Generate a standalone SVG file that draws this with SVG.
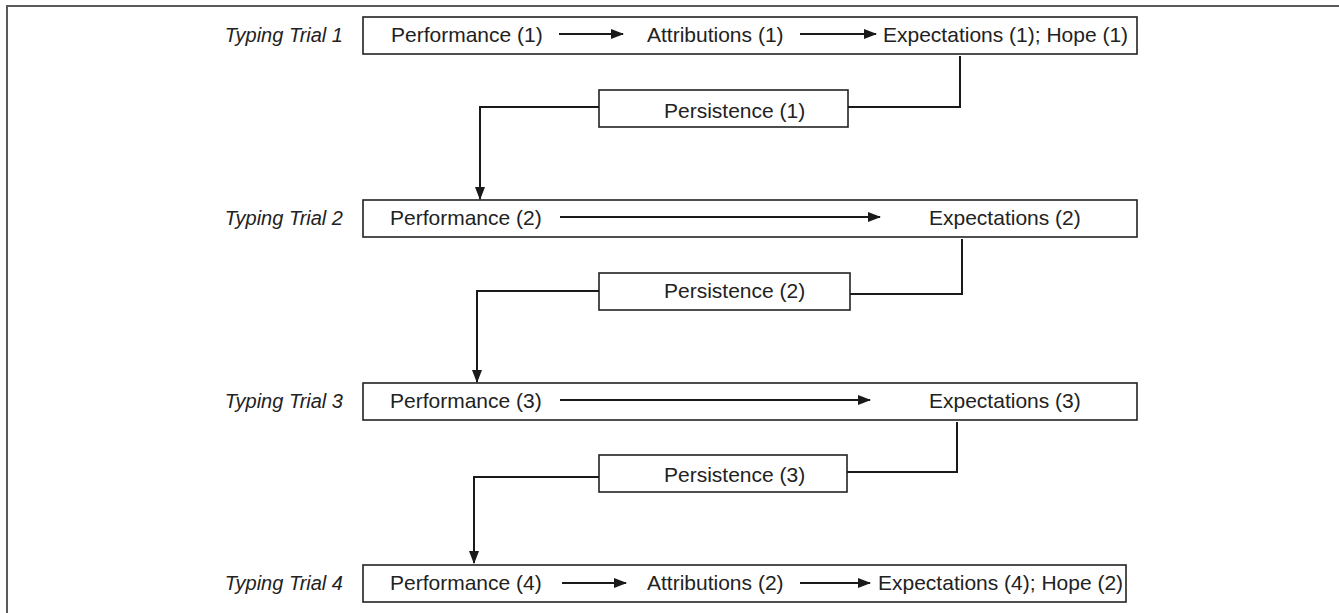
<svg xmlns="http://www.w3.org/2000/svg" width="1339" height="613" viewBox="0 0 1339 613">
<style>
.box{fill:#fff;stroke:#222;stroke-width:1.6}
.t{font-family:"Liberation Sans",Arial,sans-serif;font-size:21px;fill:#222}
.lbl{font-family:"Liberation Sans",Arial,sans-serif;font-size:20px;font-style:italic;fill:#222;text-anchor:end}
.c{fill:none;stroke:#1a1a1a;stroke-width:2}
.frame{fill:none;stroke:#5a5a5a;stroke-width:2}
</style>
<defs>
<marker id="ah" markerUnits="userSpaceOnUse" markerWidth="13" markerHeight="10" refX="12" refY="5" orient="auto">
<path d="M0,0 L13,5 L0,10 Z" fill="#1a1a1a"/>
</marker>
</defs>
<path class="frame" d="M7,613 L7,6 L1339,6"/>
<g id="trial1">
<text class="lbl" x="343" y="42">Typing Trial 1</text>
<rect class="box" x="363" y="17" width="774" height="37"/>
<text class="t" x="391" y="42">Performance (1)</text>
<text class="t" x="647" y="42">Attributions (1)</text>
<text class="t" x="883" y="42">Expectations (1); Hope (1)</text>
</g>
<g id="persistence1">
<rect class="box" x="599" y="90" width="249" height="37"/>
<text class="t" x="664" y="118">Persistence (1)</text>
</g>
<g id="trial2">
<text class="lbl" x="343" y="225">Typing Trial 2</text>
<rect class="box" x="363" y="200" width="774" height="37"/>
<text class="t" x="390" y="225">Performance (2)</text>
<text class="t" x="929" y="225">Expectations (2)</text>
</g>
<g id="persistence2">
<rect class="box" x="599" y="273" width="251" height="37"/>
<text class="t" x="664" y="298">Persistence (2)</text>
</g>
<g id="trial3">
<text class="lbl" x="343" y="408">Typing Trial 3</text>
<rect class="box" x="363" y="383" width="774" height="37"/>
<text class="t" x="390" y="408">Performance (3)</text>
<text class="t" x="929" y="408">Expectations (3)</text>
</g>
<g id="persistence3">
<rect class="box" x="599" y="455" width="248" height="37"/>
<text class="t" x="664" y="482">Persistence (3)</text>
</g>
<g id="trial4">
<text class="lbl" x="343" y="590">Typing Trial 4</text>
<rect class="box" x="363" y="565" width="763" height="37"/>
<text class="t" x="390" y="590">Performance (4)</text>
<text class="t" x="647" y="590">Attributions (2)</text>
<text class="t" x="878" y="590">Expectations (4); Hope (2)</text>
</g>
<g id="connectors">
<line class="c" x1="559" y1="34" x2="623" y2="34" marker-end="url(#ah)"/>
<line class="c" x1="800" y1="34" x2="876" y2="34" marker-end="url(#ah)"/>
<path class="c" d="M960,56 L960,107 L848,107"/>
<path class="c" d="M599,107 L480,107 L480,199" marker-end="url(#ah)"/>
<line class="c" x1="560" y1="217" x2="880" y2="217" marker-end="url(#ah)"/>
<path class="c" d="M962,239 L962,294 L850,294"/>
<path class="c" d="M599,291 L477,291 L477,382" marker-end="url(#ah)"/>
<line class="c" x1="560" y1="400" x2="870" y2="400" marker-end="url(#ah)"/>
<path class="c" d="M957,422 L957,472 L847,472"/>
<path class="c" d="M599,477 L474,477 L474,563" marker-end="url(#ah)"/>
<line class="c" x1="562" y1="583" x2="626" y2="583" marker-end="url(#ah)"/>
<line class="c" x1="800" y1="583" x2="870" y2="583" marker-end="url(#ah)"/>
</g>
</svg>
